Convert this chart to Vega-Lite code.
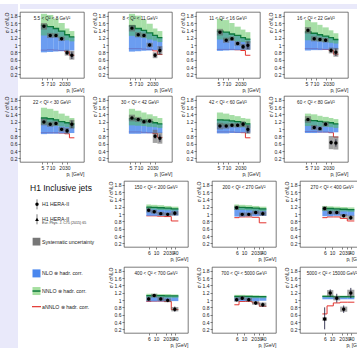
{
"$schema": "https://vega.github.io/schema/vega-lite/v6.json",
"background": "white",
"padding": 0,
"config": {
  "font": "Liberation Sans",
  "view": {"stroke": "#444", "strokeWidth": 0.7},
  "header": {"title": null, "labelFontSize": 4.6, "labelFont": "Liberation Sans", "labelColor": "#222", "labelPadding": -9, "labelOrient": "top", "labelAnchor": "middle"},
  "headerFacet": {"title": null, "labelFontSize": 4.6, "labelFont": "Liberation Sans", "labelColor": "#222", "labelPadding": -9, "labelOrient": "top", "labelAnchor": "middle"},
  "axis": {"grid": false, "domain": false, "labelFont": "Liberation Sans", "titleFont": "Liberation Sans", "labelFontSize": 5, "titleFontSize": 5, "titleFontWeight": "normal", "tickSize": 2, "tickWidth": 0.6, "tickColor": "#333", "labelColor": "#222", "titleColor": "#222", "labelPadding": 1, "labelOverlap": false, "labelFlush": false, "labelBound": false, "labelSeparation": 0}
},
"datasets": {
  "blank": [{"k": 1}],
  "legend": [
    {"label": "H1 Inclusive jets", "sym": "title", "pos": 0.87},
    {"label": "H1 HERA-II", "sym": "circle", "pos": 2.78},
    {"label": "H1 HERA-II", "sym": "triangle", "pos": 4.56},
    {"label": "Eur. Phys. J. C75 (2015) 65", "sym": "sub", "pos": 5.05},
    {"label": "Systematic uncertainty", "sym": "sys", "pos": 7.22},
    {"label": "NLO ⊗ hadr. corr.", "sym": "nlo", "pos": 11.0},
    {"label": "NNLO ⊗ hadr. corr.", "sym": "nnlo", "pos": 13.1},
    {"label": "aNNLO ⊗ hadr. corr.", "sym": "annlo", "pos": 14.96}
  ],
  "low": [
    {"panel": "5.5 < Q² < 8 GeV²", "lo": 4.5, "hi": 7, "pt": 5.6, "nlo_lo": 0.80, "nlo_hi": 1.54, "nnlo_lo": 1.26, "nnlo": 1.54, "nnlo_hi": 1.85, "annlo": 0.86, "h1": 1.51, "stat_lo": 1.49, "stat_hi": 1.53, "sys_lo": 1.42, "sys_hi": 1.60},
    {"panel": "5.5 < Q² < 8 GeV²", "lo": 7, "hi": 11, "pt": 8.8, "nlo_lo": 0.81, "nlo_hi": 1.50, "nnlo_lo": 1.25, "nnlo": 1.50, "nnlo_hi": 1.82, "annlo": 0.87, "h1": 1.26, "stat_lo": 1.24, "stat_hi": 1.28, "sys_lo": 1.19, "sys_hi": 1.33},
    {"panel": "5.5 < Q² < 8 GeV²", "lo": 11, "hi": 16, "pt": 13.3, "nlo_lo": 0.82, "nlo_hi": 1.45, "nnlo_lo": 1.22, "nnlo": 1.45, "nnlo_hi": 1.72, "annlo": 0.86, "h1": 1.26, "stat_lo": 1.23, "stat_hi": 1.29, "sys_lo": 1.20, "sys_hi": 1.32},
    {"panel": "5.5 < Q² < 8 GeV²", "lo": 16, "hi": 25, "pt": 20, "nlo_lo": 0.83, "nlo_hi": 1.38, "nnlo_lo": 1.18, "nnlo": 1.38, "nnlo_hi": 1.60, "annlo": 0.85, "h1": 1.17, "stat_lo": 1.13, "stat_hi": 1.21, "sys_lo": 1.11, "sys_hi": 1.23},
    {"panel": "5.5 < Q² < 8 GeV²", "lo": 25, "hi": 35, "pt": 29.6, "nlo_lo": 0.84, "nlo_hi": 1.28, "nnlo_lo": 1.13, "nnlo": 1.28, "nnlo_hi": 1.45, "annlo": 0.82, "h1": 0.79, "stat_lo": 0.73, "stat_hi": 0.85, "sys_lo": 0.71, "sys_hi": 0.87},
    {"panel": "5.5 < Q² < 8 GeV²", "lo": 35, "hi": 50, "pt": 41.8, "nlo_lo": 0.85, "nlo_hi": 1.22, "nnlo_lo": 1.10, "nnlo": 1.22, "nnlo_hi": 1.38, "annlo": 0.72, "h1": 0.72, "stat_lo": 0.62, "stat_hi": 0.82, "sys_lo": 0.60, "sys_hi": 0.84},

    {"panel": "8 < Q² < 11 GeV²", "lo": 4.5, "hi": 7, "pt": 5.6, "nlo_lo": 0.82, "nlo_hi": 1.52, "nnlo_lo": 1.25, "nnlo": 1.52, "nnlo_hi": 1.85, "annlo": 0.90, "h1": 1.46, "stat_lo": 1.44, "stat_hi": 1.48, "sys_lo": 1.37, "sys_hi": 1.55},
    {"panel": "8 < Q² < 11 GeV²", "lo": 7, "hi": 11, "pt": 8.8, "nlo_lo": 0.83, "nlo_hi": 1.45, "nnlo_lo": 1.22, "nnlo": 1.45, "nnlo_hi": 1.80, "annlo": 0.90, "h1": 1.28, "stat_lo": 1.26, "stat_hi": 1.30, "sys_lo": 1.21, "sys_hi": 1.35},
    {"panel": "8 < Q² < 11 GeV²", "lo": 11, "hi": 16, "pt": 13.3, "nlo_lo": 0.84, "nlo_hi": 1.40, "nnlo_lo": 1.20, "nnlo": 1.40, "nnlo_hi": 1.70, "annlo": 0.89, "h1": 1.26, "stat_lo": 1.23, "stat_hi": 1.29, "sys_lo": 1.20, "sys_hi": 1.32},
    {"panel": "8 < Q² < 11 GeV²", "lo": 16, "hi": 25, "pt": 20, "nlo_lo": 0.85, "nlo_hi": 1.33, "nnlo_lo": 1.15, "nnlo": 1.33, "nnlo_hi": 1.58, "annlo": 0.88, "h1": 1.00, "stat_lo": 0.96, "stat_hi": 1.04, "sys_lo": 0.94, "sys_hi": 1.06},
    {"panel": "8 < Q² < 11 GeV²", "lo": 25, "hi": 35, "pt": 29.6, "nlo_lo": 0.86, "nlo_hi": 1.26, "nnlo_lo": 1.12, "nnlo": 1.26, "nnlo_hi": 1.45, "annlo": 0.84, "h1": 0.72, "stat_lo": 0.66, "stat_hi": 0.78, "sys_lo": 0.64, "sys_hi": 0.80},
    {"panel": "8 < Q² < 11 GeV²", "lo": 35, "hi": 50, "pt": 41.8, "nlo_lo": 0.86, "nlo_hi": 1.20, "nnlo_lo": 1.08, "nnlo": 1.20, "nnlo_hi": 1.38, "annlo": 0.74, "h1": 0.85, "stat_lo": 0.75, "stat_hi": 0.95, "sys_lo": 0.73, "sys_hi": 0.97},

    {"panel": "11 < Q² < 16 GeV²", "lo": 4.5, "hi": 7, "pt": 5.6, "nlo_lo": 0.84, "nlo_hi": 1.38, "nnlo_lo": 1.15, "nnlo": 1.38, "nnlo_hi": 1.72, "annlo": 0.88, "h1": 1.35, "stat_lo": 1.33, "stat_hi": 1.37, "sys_lo": 1.26, "sys_hi": 1.44},
    {"panel": "11 < Q² < 16 GeV²", "lo": 7, "hi": 11, "pt": 8.8, "nlo_lo": 0.85, "nlo_hi": 1.35, "nnlo_lo": 1.13, "nnlo": 1.35, "nnlo_hi": 1.68, "annlo": 0.88, "h1": 1.13, "stat_lo": 1.11, "stat_hi": 1.15, "sys_lo": 1.06, "sys_hi": 1.20},
    {"panel": "11 < Q² < 16 GeV²", "lo": 11, "hi": 16, "pt": 13.3, "nlo_lo": 0.86, "nlo_hi": 1.30, "nnlo_lo": 1.12, "nnlo": 1.30, "nnlo_hi": 1.60, "annlo": 0.88, "h1": 1.17, "stat_lo": 1.14, "stat_hi": 1.20, "sys_lo": 1.11, "sys_hi": 1.23},
    {"panel": "11 < Q² < 16 GeV²", "lo": 16, "hi": 25, "pt": 20, "nlo_lo": 0.86, "nlo_hi": 1.26, "nnlo_lo": 1.10, "nnlo": 1.26, "nnlo_hi": 1.50, "annlo": 0.87, "h1": 1.04, "stat_lo": 1.00, "stat_hi": 1.08, "sys_lo": 0.98, "sys_hi": 1.10},
    {"panel": "11 < Q² < 16 GeV²", "lo": 25, "hi": 35, "pt": 29.6, "nlo_lo": 0.87, "nlo_hi": 1.20, "nnlo_lo": 1.08, "nnlo": 1.20, "nnlo_hi": 1.42, "annlo": 0.85, "h1": 0.95, "stat_lo": 0.89, "stat_hi": 1.01, "sys_lo": 0.87, "sys_hi": 1.03},
    {"panel": "11 < Q² < 16 GeV²", "lo": 35, "hi": 50, "pt": 41.8, "nlo_lo": 0.87, "nlo_hi": 1.16, "nnlo_lo": 1.05, "nnlo": 1.16, "nnlo_hi": 1.35, "annlo": 0.72, "h1": 0.99, "stat_lo": 0.89, "stat_hi": 1.09, "sys_lo": 0.87, "sys_hi": 1.11},

    {"panel": "16 < Q² < 22 GeV²", "lo": 4.5, "hi": 7, "pt": 5.6, "nlo_lo": 0.85, "nlo_hi": 1.36, "nnlo_lo": 1.13, "nnlo": 1.36, "nnlo_hi": 1.68, "annlo": 0.90, "h1": 1.40, "stat_lo": 1.38, "stat_hi": 1.42, "sys_lo": 1.31, "sys_hi": 1.49},
    {"panel": "16 < Q² < 22 GeV²", "lo": 7, "hi": 11, "pt": 8.8, "nlo_lo": 0.86, "nlo_hi": 1.32, "nnlo_lo": 1.12, "nnlo": 1.32, "nnlo_hi": 1.62, "annlo": 0.90, "h1": 1.17, "stat_lo": 1.15, "stat_hi": 1.19, "sys_lo": 1.10, "sys_hi": 1.24},
    {"panel": "16 < Q² < 22 GeV²", "lo": 11, "hi": 16, "pt": 13.3, "nlo_lo": 0.86, "nlo_hi": 1.28, "nnlo_lo": 1.10, "nnlo": 1.28, "nnlo_hi": 1.55, "annlo": 0.89, "h1": 1.15, "stat_lo": 1.12, "stat_hi": 1.18, "sys_lo": 1.09, "sys_hi": 1.21},
    {"panel": "16 < Q² < 22 GeV²", "lo": 16, "hi": 25, "pt": 20, "nlo_lo": 0.87, "nlo_hi": 1.24, "nnlo_lo": 1.08, "nnlo": 1.24, "nnlo_hi": 1.48, "annlo": 0.88, "h1": 1.13, "stat_lo": 1.09, "stat_hi": 1.17, "sys_lo": 1.07, "sys_hi": 1.19},
    {"panel": "16 < Q² < 22 GeV²", "lo": 25, "hi": 35, "pt": 29.6, "nlo_lo": 0.87, "nlo_hi": 1.20, "nnlo_lo": 1.06, "nnlo": 1.20, "nnlo_hi": 1.40, "annlo": 0.86, "h1": 0.85, "stat_lo": 0.79, "stat_hi": 0.91, "sys_lo": 0.77, "sys_hi": 0.93},
    {"panel": "16 < Q² < 22 GeV²", "lo": 35, "hi": 50, "pt": 41.8, "nlo_lo": 0.88, "nlo_hi": 1.15, "nnlo_lo": 1.04, "nnlo": 1.15, "nnlo_hi": 1.32, "annlo": 0.75, "h1": 0.80, "stat_lo": 0.70, "stat_hi": 0.90, "sys_lo": 0.68, "sys_hi": 0.92},

    {"panel": "22 < Q² < 30 GeV²", "lo": 4.5, "hi": 7, "pt": 5.6, "nlo_lo": 0.86, "nlo_hi": 1.30, "nnlo_lo": 1.12, "nnlo": 1.30, "nnlo_hi": 1.58, "annlo": 0.90, "h1": 1.19, "stat_lo": 1.17, "stat_hi": 1.21, "sys_lo": 1.10, "sys_hi": 1.28},
    {"panel": "22 < Q² < 30 GeV²", "lo": 7, "hi": 11, "pt": 8.8, "nlo_lo": 0.87, "nlo_hi": 1.28, "nnlo_lo": 1.10, "nnlo": 1.28, "nnlo_hi": 1.55, "annlo": 0.90, "h1": 1.13, "stat_lo": 1.11, "stat_hi": 1.15, "sys_lo": 1.06, "sys_hi": 1.20},
    {"panel": "22 < Q² < 30 GeV²", "lo": 11, "hi": 16, "pt": 13.3, "nlo_lo": 0.87, "nlo_hi": 1.25, "nnlo_lo": 1.09, "nnlo": 1.25, "nnlo_hi": 1.50, "annlo": 0.90, "h1": 1.15, "stat_lo": 1.12, "stat_hi": 1.18, "sys_lo": 1.09, "sys_hi": 1.21},
    {"panel": "22 < Q² < 30 GeV²", "lo": 16, "hi": 25, "pt": 20, "nlo_lo": 0.88, "nlo_hi": 1.20, "nnlo_lo": 1.07, "nnlo": 1.20, "nnlo_hi": 1.42, "annlo": 0.89, "h1": 0.99, "stat_lo": 0.95, "stat_hi": 1.03, "sys_lo": 0.93, "sys_hi": 1.05},
    {"panel": "22 < Q² < 30 GeV²", "lo": 25, "hi": 35, "pt": 29.6, "nlo_lo": 0.88, "nlo_hi": 1.17, "nnlo_lo": 1.05, "nnlo": 1.17, "nnlo_hi": 1.36, "annlo": 0.87, "h1": 0.95, "stat_lo": 0.89, "stat_hi": 1.01, "sys_lo": 0.87, "sys_hi": 1.03},
    {"panel": "22 < Q² < 30 GeV²", "lo": 35, "hi": 50, "pt": 41.8, "nlo_lo": 0.89, "nlo_hi": 1.14, "nnlo_lo": 1.03, "nnlo": 1.14, "nnlo_hi": 1.30, "annlo": 0.76, "h1": 1.13, "stat_lo": 1.03, "stat_hi": 1.23, "sys_lo": 1.01, "sys_hi": 1.25},

    {"panel": "30 < Q² < 42 GeV²", "lo": 4.5, "hi": 7, "pt": 5.6, "nlo_lo": 0.87, "nlo_hi": 1.28, "nnlo_lo": 1.10, "nnlo": 1.28, "nnlo_hi": 1.55, "annlo": 0.92, "h1": 1.30, "stat_lo": 1.28, "stat_hi": 1.32, "sys_lo": 1.21, "sys_hi": 1.39},
    {"panel": "30 < Q² < 42 GeV²", "lo": 7, "hi": 11, "pt": 8.8, "nlo_lo": 0.87, "nlo_hi": 1.26, "nnlo_lo": 1.09, "nnlo": 1.26, "nnlo_hi": 1.50, "annlo": 0.92, "h1": 1.26, "stat_lo": 1.24, "stat_hi": 1.28, "sys_lo": 1.19, "sys_hi": 1.33},
    {"panel": "30 < Q² < 42 GeV²", "lo": 11, "hi": 16, "pt": 13.3, "nlo_lo": 0.88, "nlo_hi": 1.24, "nnlo_lo": 1.08, "nnlo": 1.24, "nnlo_hi": 1.45, "annlo": 0.91, "h1": 1.20, "stat_lo": 1.17, "stat_hi": 1.23, "sys_lo": 1.14, "sys_hi": 1.26},
    {"panel": "30 < Q² < 42 GeV²", "lo": 16, "hi": 25, "pt": 20, "nlo_lo": 0.88, "nlo_hi": 1.20, "nnlo_lo": 1.06, "nnlo": 1.20, "nnlo_hi": 1.40, "annlo": 0.90, "h1": 1.22, "stat_lo": 1.18, "stat_hi": 1.26, "sys_lo": 1.16, "sys_hi": 1.28},
    {"panel": "30 < Q² < 42 GeV²", "lo": 25, "hi": 35, "pt": 29.6, "nlo_lo": 0.89, "nlo_hi": 1.17, "nnlo_lo": 1.05, "nnlo": 1.17, "nnlo_hi": 1.35, "annlo": 0.88, "h1": 0.80, "stat_lo": 0.74, "stat_hi": 0.86, "sys_lo": 0.62, "sys_hi": 0.98},
    {"panel": "30 < Q² < 42 GeV²", "lo": 35, "hi": 50, "pt": 41.8, "nlo_lo": 0.89, "nlo_hi": 1.14, "nnlo_lo": 1.03, "nnlo": 1.14, "nnlo_hi": 1.30, "annlo": 0.77, "h1": 0.75, "stat_lo": 0.65, "stat_hi": 0.85, "sys_lo": 0.60, "sys_hi": 0.90},

    {"panel": "42 < Q² < 60 GeV²", "lo": 4.5, "hi": 7, "pt": 5.6, "nlo_lo": 0.88, "nlo_hi": 1.25, "nnlo_lo": 1.09, "nnlo": 1.25, "nnlo_hi": 1.45, "annlo": 0.92, "h1": 1.08, "stat_lo": 1.06, "stat_hi": 1.10, "sys_lo": 0.99, "sys_hi": 1.17},
    {"panel": "42 < Q² < 60 GeV²", "lo": 7, "hi": 11, "pt": 8.8, "nlo_lo": 0.88, "nlo_hi": 1.24, "nnlo_lo": 1.08, "nnlo": 1.24, "nnlo_hi": 1.42, "annlo": 0.92, "h1": 1.08, "stat_lo": 1.06, "stat_hi": 1.10, "sys_lo": 1.01, "sys_hi": 1.15},
    {"panel": "42 < Q² < 60 GeV²", "lo": 11, "hi": 16, "pt": 13.3, "nlo_lo": 0.89, "nlo_hi": 1.22, "nnlo_lo": 1.07, "nnlo": 1.22, "nnlo_hi": 1.38, "annlo": 0.92, "h1": 1.10, "stat_lo": 1.07, "stat_hi": 1.13, "sys_lo": 1.04, "sys_hi": 1.16},
    {"panel": "42 < Q² < 60 GeV²", "lo": 16, "hi": 25, "pt": 20, "nlo_lo": 0.89, "nlo_hi": 1.20, "nnlo_lo": 1.06, "nnlo": 1.20, "nnlo_hi": 1.35, "annlo": 0.91, "h1": 1.10, "stat_lo": 1.06, "stat_hi": 1.14, "sys_lo": 1.04, "sys_hi": 1.16},
    {"panel": "42 < Q² < 60 GeV²", "lo": 25, "hi": 35, "pt": 29.6, "nlo_lo": 0.90, "nlo_hi": 1.17, "nnlo_lo": 1.05, "nnlo": 1.17, "nnlo_hi": 1.30, "annlo": 0.90, "h1": 1.13, "stat_lo": 1.07, "stat_hi": 1.19, "sys_lo": 1.05, "sys_hi": 1.21},
    {"panel": "42 < Q² < 60 GeV²", "lo": 35, "hi": 50, "pt": 41.8, "nlo_lo": 0.90, "nlo_hi": 1.14, "nnlo_lo": 1.03, "nnlo": 1.14, "nnlo_hi": 1.28, "annlo": 0.76, "h1": 0.99, "stat_lo": 0.89, "stat_hi": 1.09, "sys_lo": 0.87, "sys_hi": 1.11},

    {"panel": "60 < Q² < 80 GeV²", "lo": 4.5, "hi": 7, "pt": 5.6, "nlo_lo": 0.89, "nlo_hi": 1.24, "nnlo_lo": 1.08, "nnlo": 1.24, "nnlo_hi": 1.42, "annlo": 0.93, "h1": 1.26, "stat_lo": 1.24, "stat_hi": 1.28, "sys_lo": 1.17, "sys_hi": 1.35},
    {"panel": "60 < Q² < 80 GeV²", "lo": 7, "hi": 11, "pt": 8.8, "nlo_lo": 0.89, "nlo_hi": 1.23, "nnlo_lo": 1.08, "nnlo": 1.23, "nnlo_hi": 1.40, "annlo": 0.93, "h1": 1.04, "stat_lo": 1.02, "stat_hi": 1.06, "sys_lo": 0.97, "sys_hi": 1.11},
    {"panel": "60 < Q² < 80 GeV²", "lo": 11, "hi": 16, "pt": 13.3, "nlo_lo": 0.90, "nlo_hi": 1.21, "nnlo_lo": 1.07, "nnlo": 1.21, "nnlo_hi": 1.36, "annlo": 0.92, "h1": 1.01, "stat_lo": 0.98, "stat_hi": 1.04, "sys_lo": 0.95, "sys_hi": 1.07},
    {"panel": "60 < Q² < 80 GeV²", "lo": 16, "hi": 25, "pt": 20, "nlo_lo": 0.90, "nlo_hi": 1.19, "nnlo_lo": 1.06, "nnlo": 1.19, "nnlo_hi": 1.33, "annlo": 0.92, "h1": 1.13, "stat_lo": 1.09, "stat_hi": 1.17, "sys_lo": 1.07, "sys_hi": 1.19},
    {"panel": "60 < Q² < 80 GeV²", "lo": 25, "hi": 35, "pt": 29.6, "nlo_lo": 0.90, "nlo_hi": 1.17, "nnlo_lo": 1.05, "nnlo": 1.17, "nnlo_hi": 1.30, "annlo": 0.90, "h1": 0.63, "stat_lo": 0.57, "stat_hi": 0.69, "sys_lo": 0.45, "sys_hi": 0.81},
    {"panel": "60 < Q² < 80 GeV²", "lo": 35, "hi": 50, "pt": 41.8, "nlo_lo": 0.91, "nlo_hi": 1.14, "nnlo_lo": 1.03, "nnlo": 1.14, "nnlo_hi": 1.27, "annlo": 0.78, "h1": 0.62, "stat_lo": 0.52, "stat_hi": 0.72, "sys_lo": 0.44, "sys_hi": 0.80}
  ],
  "high": [
    {"panel": "150 < Q² < 200 GeV²", "lo": 5, "hi": 7, "pt": 5.9, "nlo_lo": 0.95, "nlo_hi": 1.19, "nnlo_lo": 1.12, "nnlo": 1.19, "nnlo_hi": 1.26, "annlo": 0.95, "h1": 1.10, "stat_lo": 1.07, "stat_hi": 1.13, "sys_lo": 1.04, "sys_hi": 1.16},
    {"panel": "150 < Q² < 200 GeV²", "lo": 7, "hi": 11, "pt": 8.8, "nlo_lo": 0.95, "nlo_hi": 1.18, "nnlo_lo": 1.12, "nnlo": 1.18, "nnlo_hi": 1.25, "annlo": 0.95, "h1": 1.06, "stat_lo": 1.03, "stat_hi": 1.09, "sys_lo": 1.01, "sys_hi": 1.11},
    {"panel": "150 < Q² < 200 GeV²", "lo": 11, "hi": 18, "pt": 14.1, "nlo_lo": 0.95, "nlo_hi": 1.17, "nnlo_lo": 1.11, "nnlo": 1.17, "nnlo_hi": 1.24, "annlo": 0.94, "h1": 1.01, "stat_lo": 0.98, "stat_hi": 1.04, "sys_lo": 0.96, "sys_hi": 1.06},
    {"panel": "150 < Q² < 200 GeV²", "lo": 18, "hi": 30, "pt": 23.2, "nlo_lo": 0.96, "nlo_hi": 1.16, "nnlo_lo": 1.10, "nnlo": 1.16, "nnlo_hi": 1.22, "annlo": 0.93, "h1": 0.99, "stat_lo": 0.95, "stat_hi": 1.03, "sys_lo": 0.94, "sys_hi": 1.04},
    {"panel": "150 < Q² < 200 GeV²", "lo": 30, "hi": 50, "pt": 38.7, "nlo_lo": 0.96, "nlo_hi": 1.14, "nnlo_lo": 1.09, "nnlo": 1.14, "nnlo_hi": 1.20, "annlo": 0.81, "h1": 1.02, "stat_lo": 0.96, "stat_hi": 1.08, "sys_lo": 0.96, "sys_hi": 1.08},

    {"panel": "200 < Q² < 270 GeV²", "lo": 5, "hi": 7, "pt": 5.9, "nlo_lo": 0.93, "nlo_hi": 1.19, "nnlo_lo": 1.11, "nnlo": 1.19, "nnlo_hi": 1.26, "annlo": 0.90, "h1": 1.17, "stat_lo": 1.14, "stat_hi": 1.20, "sys_lo": 1.11, "sys_hi": 1.23},
    {"panel": "200 < Q² < 270 GeV²", "lo": 7, "hi": 11, "pt": 8.8, "nlo_lo": 0.93, "nlo_hi": 1.18, "nnlo_lo": 1.11, "nnlo": 1.18, "nnlo_hi": 1.25, "annlo": 0.92, "h1": 0.99, "stat_lo": 0.96, "stat_hi": 1.02, "sys_lo": 0.94, "sys_hi": 1.04},
    {"panel": "200 < Q² < 270 GeV²", "lo": 11, "hi": 18, "pt": 14.1, "nlo_lo": 0.94, "nlo_hi": 1.17, "nnlo_lo": 1.10, "nnlo": 1.17, "nnlo_hi": 1.24, "annlo": 0.92, "h1": 0.99, "stat_lo": 0.96, "stat_hi": 1.02, "sys_lo": 0.94, "sys_hi": 1.04},
    {"panel": "200 < Q² < 270 GeV²", "lo": 18, "hi": 30, "pt": 23.2, "nlo_lo": 0.94, "nlo_hi": 1.16, "nnlo_lo": 1.09, "nnlo": 1.16, "nnlo_hi": 1.22, "annlo": 0.91, "h1": 1.04, "stat_lo": 1.00, "stat_hi": 1.08, "sys_lo": 0.99, "sys_hi": 1.09},
    {"panel": "200 < Q² < 270 GeV²", "lo": 30, "hi": 50, "pt": 38.7, "nlo_lo": 0.95, "nlo_hi": 1.14, "nnlo_lo": 1.08, "nnlo": 1.14, "nnlo_hi": 1.20, "annlo": 0.76, "h1": 1.01, "stat_lo": 0.95, "stat_hi": 1.07, "sys_lo": 0.95, "sys_hi": 1.07},

    {"panel": "270 < Q² < 400 GeV²", "lo": 5, "hi": 7, "pt": 5.9, "nlo_lo": 0.94, "nlo_hi": 1.15, "nnlo_lo": 1.08, "nnlo": 1.15, "nnlo_hi": 1.22, "annlo": 0.90, "h1": 1.15, "stat_lo": 1.12, "stat_hi": 1.18, "sys_lo": 1.09, "sys_hi": 1.21},
    {"panel": "270 < Q² < 400 GeV²", "lo": 7, "hi": 11, "pt": 8.8, "nlo_lo": 0.94, "nlo_hi": 1.15, "nnlo_lo": 1.08, "nnlo": 1.15, "nnlo_hi": 1.21, "annlo": 0.92, "h1": 1.04, "stat_lo": 1.01, "stat_hi": 1.07, "sys_lo": 0.99, "sys_hi": 1.09},
    {"panel": "270 < Q² < 400 GeV²", "lo": 11, "hi": 18, "pt": 14.1, "nlo_lo": 0.95, "nlo_hi": 1.14, "nnlo_lo": 1.07, "nnlo": 1.14, "nnlo_hi": 1.20, "annlo": 0.92, "h1": 1.04, "stat_lo": 1.01, "stat_hi": 1.07, "sys_lo": 0.99, "sys_hi": 1.09},
    {"panel": "270 < Q² < 400 GeV²", "lo": 18, "hi": 30, "pt": 23.2, "nlo_lo": 0.95, "nlo_hi": 1.13, "nnlo_lo": 1.07, "nnlo": 1.13, "nnlo_hi": 1.19, "annlo": 0.88, "h1": 0.95, "stat_lo": 0.91, "stat_hi": 0.99, "sys_lo": 0.90, "sys_hi": 1.00},
    {"panel": "270 < Q² < 400 GeV²", "lo": 30, "hi": 50, "pt": 38.7, "nlo_lo": 0.95, "nlo_hi": 1.12, "nnlo_lo": 1.06, "nnlo": 1.12, "nnlo_hi": 1.18, "annlo": 0.81, "h1": 0.90, "stat_lo": 0.84, "stat_hi": 0.96, "sys_lo": 0.84, "sys_hi": 0.96},

    {"panel": "400 < Q² < 700 GeV²", "lo": 5, "hi": 7, "pt": 5.9, "nlo_lo": 0.96, "nlo_hi": 1.12, "nnlo_lo": 1.07, "nnlo": 1.12, "nnlo_hi": 1.17, "annlo": 0.96, "h1": 1.03, "stat_lo": 0.99, "stat_hi": 1.07, "sys_lo": 0.97, "sys_hi": 1.09},
    {"panel": "400 < Q² < 700 GeV²", "lo": 7, "hi": 11, "pt": 8.8, "nlo_lo": 0.96, "nlo_hi": 1.12, "nnlo_lo": 1.07, "nnlo": 1.12, "nnlo_hi": 1.17, "annlo": 0.97, "h1": 1.12, "stat_lo": 1.08, "stat_hi": 1.16, "sys_lo": 1.07, "sys_hi": 1.17},
    {"panel": "400 < Q² < 700 GeV²", "lo": 11, "hi": 18, "pt": 14.1, "nlo_lo": 0.96, "nlo_hi": 1.12, "nnlo_lo": 1.07, "nnlo": 1.12, "nnlo_hi": 1.16, "annlo": 0.97, "h1": 1.03, "stat_lo": 0.99, "stat_hi": 1.07, "sys_lo": 0.98, "sys_hi": 1.08},
    {"panel": "400 < Q² < 700 GeV²", "lo": 18, "hi": 30, "pt": 23.2, "nlo_lo": 0.97, "nlo_hi": 1.11, "nnlo_lo": 1.06, "nnlo": 1.11, "nnlo_hi": 1.16, "annlo": 0.96, "h1": 0.99, "stat_lo": 0.94, "stat_hi": 1.04, "sys_lo": 0.94, "sys_hi": 1.04},
    {"panel": "400 < Q² < 700 GeV²", "lo": 30, "hi": 50, "pt": 38.7, "nlo_lo": 0.97, "nlo_hi": 1.11, "nnlo_lo": 1.06, "nnlo": 1.11, "nnlo_hi": 1.15, "annlo": 0.74, "h1": 0.75, "stat_lo": 0.68, "stat_hi": 0.82, "sys_lo": 0.69, "sys_hi": 0.81},

    {"panel": "700 < Q² < 5000 GeV²", "lo": 5, "hi": 7, "pt": 5.9, "nlo_lo": 0.97, "nlo_hi": 1.10, "nnlo_lo": 1.06, "nnlo": 1.10, "nnlo_hi": 1.14, "annlo": 0.87, "h1": 1.01, "stat_lo": 0.96, "stat_hi": 1.06, "sys_lo": 0.95, "sys_hi": 1.07},
    {"panel": "700 < Q² < 5000 GeV²", "lo": 7, "hi": 11, "pt": 8.8, "nlo_lo": 0.97, "nlo_hi": 1.10, "nnlo_lo": 1.06, "nnlo": 1.10, "nnlo_hi": 1.14, "annlo": 0.96, "h1": 1.05, "stat_lo": 1.00, "stat_hi": 1.10, "sys_lo": 1.00, "sys_hi": 1.10},
    {"panel": "700 < Q² < 5000 GeV²", "lo": 11, "hi": 18, "pt": 14.1, "nlo_lo": 0.97, "nlo_hi": 1.10, "nnlo_lo": 1.06, "nnlo": 1.10, "nnlo_hi": 1.13, "annlo": 0.96, "h1": 1.01, "stat_lo": 0.96, "stat_hi": 1.06, "sys_lo": 0.96, "sys_hi": 1.06},
    {"panel": "700 < Q² < 5000 GeV²", "lo": 18, "hi": 30, "pt": 23.2, "nlo_lo": 0.97, "nlo_hi": 1.09, "nnlo_lo": 1.05, "nnlo": 1.09, "nnlo_hi": 1.13, "annlo": 0.92, "h1": 0.92, "stat_lo": 0.87, "stat_hi": 0.97, "sys_lo": 0.87, "sys_hi": 0.97},
    {"panel": "700 < Q² < 5000 GeV²", "lo": 30, "hi": 50, "pt": 38.7, "nlo_lo": 0.98, "nlo_hi": 1.09, "nnlo_lo": 1.05, "nnlo": 1.09, "nnlo_hi": 1.12, "annlo": 0.83, "h1": 0.87, "stat_lo": 0.81, "stat_hi": 0.93, "sys_lo": 0.81, "sys_hi": 0.93},

    {"panel": "5000 < Q² < 15000 GeV²", "lo": 5, "hi": 7, "pt": 5.9, "nlo_lo": 1.02, "nlo_hi": 1.10, "nnlo_lo": 1.07, "nnlo": 1.10, "nnlo_hi": 1.13, "annlo": 0.62, "h1": 0.48, "stat_lo": 0.20, "stat_hi": 0.80, "sys_lo": 0.43, "sys_hi": 0.53},
    {"panel": "5000 < Q² < 15000 GeV²", "lo": 7, "hi": 11, "pt": 8.8, "nlo_lo": 1.02, "nlo_hi": 1.10, "nnlo_lo": 1.07, "nnlo": 1.10, "nnlo_hi": 1.13, "annlo": 0.84, "h1": 1.19, "stat_lo": 1.09, "stat_hi": 1.29, "sys_lo": 1.11, "sys_hi": 1.27},
    {"panel": "5000 < Q² < 15000 GeV²", "lo": 11, "hi": 18, "pt": 14.1, "nlo_lo": 1.02, "nlo_hi": 1.09, "nnlo_lo": 1.06, "nnlo": 1.09, "nnlo_hi": 1.12, "annlo": 0.92, "h1": 1.05, "stat_lo": 0.93, "stat_hi": 1.17, "sys_lo": 0.99, "sys_hi": 1.11},
    {"panel": "5000 < Q² < 15000 GeV²", "lo": 18, "hi": 30, "pt": 23.2, "nlo_lo": 1.02, "nlo_hi": 1.09, "nnlo_lo": 1.06, "nnlo": 1.09, "nnlo_hi": 1.12, "annlo": 0.94, "h1": 0.75, "stat_lo": 0.65, "stat_hi": 0.85, "sys_lo": 0.68, "sys_hi": 0.82},
    {"panel": "5000 < Q² < 15000 GeV²", "lo": 30, "hi": 50, "pt": 38.7, "nlo_lo": 1.02, "nlo_hi": 1.09, "nnlo_lo": 1.06, "nnlo": 1.09, "nnlo_hi": 1.12, "annlo": 0.94, "h1": 1.19, "stat_lo": 1.05, "stat_hi": 1.33, "sys_lo": 1.10, "sys_hi": 1.28}
  ]
},
"hconcat": [
  {"data": {"name": "blank"}, "width": 18, "height": 348, "view": {"fill": "#e9e9fa", "stroke": null}, "mark": {"type": "text"}, "encoding": {"text": {"value": " "}}},
  {"vconcat": [
    {"data": {"name": "blank"}, "width": 357, "height": 5, "view": {"fill": "#e9e9fa", "stroke": null}, "mark": {"type": "text"}, "encoding": {"text": {"value": " "}}},
    {"vconcat": [
        {"data": {"name": "low"},
         "facet": {"field": "panel", "type": "nominal", "title": null,
           "sort": ["5.5 < Q² < 8 GeV²", "8 < Q² < 11 GeV²", "11 < Q² < 16 GeV²", "16 < Q² < 22 GeV²", "22 < Q² < 30 GeV²", "30 < Q² < 42 GeV²", "42 < Q² < 60 GeV²", "60 < Q² < 80 GeV²"]},
         "columns": 4,
         "spacing": {"row": 2, "column": 6},
         "resolve": {"axis": {"x": "independent", "y": "independent"}},
         "spec": {
           "width": 64, "height": 66,
           "layer": [
             {"transform": [{"fold": ["lo", "hi"], "as": ["edge", "xv"]}],
              "mark": {"type": "line", "color": "#e3342f", "strokeWidth": 1},
              "encoding": {
                "x": {"field": "xv", "type": "quantitative", "scale": {"type": "log", "domain": [4.5, 50]}, "axis": {"values": [5, 7, 10, 20, 30], "format": "d", "title": "pₜ [GeV]", "titleAnchor": "end", "titlePadding": 1, "labelOverlap": false}},
                "y": {"field": "annlo", "type": "quantitative", "scale": {"domain": [0.1, 1.9], "nice": false}, "axis": {"tickCount": 9, "labelExpr": "datum.value == 1 ? '1' : datum.label", "title": "σ / σNLO", "titleAnchor": "end", "titlePadding": 1, "labelOverlap": false, "labelBound": false}},
                "order": [{"field": "xv", "type": "quantitative"}, {"field": "edge", "type": "nominal"}]}},
             {"mark": {"type": "rect", "color": "#4a87ee", "opacity": 0.82},
              "encoding": {"x": {"field": "lo", "type": "quantitative"}, "x2": {"field": "hi"}, "y": {"field": "nlo_lo", "type": "quantitative"}, "y2": {"field": "nlo_hi"}}},
             {"mark": {"type": "rect", "color": "#4fbf4f", "opacity": 0.5},
              "encoding": {"x": {"field": "lo", "type": "quantitative"}, "x2": {"field": "hi"}, "y": {"field": "nnlo_lo", "type": "quantitative"}, "y2": {"field": "nnlo_hi"}}},
             {"transform": [{"fold": ["lo", "hi"], "as": ["edge", "xv"]}],
              "mark": {"type": "line", "color": "#0e7a3c", "strokeWidth": 1.3},
              "encoding": {"x": {"field": "xv", "type": "quantitative"}, "y": {"field": "nnlo", "type": "quantitative"}, "order": [{"field": "xv", "type": "quantitative"}, {"field": "edge", "type": "nominal"}]}},
             {"mark": {"type": "rect", "color": "#666666", "opacity": 0.6},
              "encoding": {"x": {"field": "lo", "type": "quantitative"}, "x2": {"field": "hi"}, "y": {"field": "sys_lo", "type": "quantitative"}, "y2": {"field": "sys_hi"}}},
             {"mark": {"type": "rule", "color": "#111133", "strokeWidth": 0.8},
              "encoding": {"x": {"field": "pt", "type": "quantitative"}, "y": {"field": "stat_lo", "type": "quantitative"}, "y2": {"field": "stat_hi"}}},
             {"mark": {"type": "point", "filled": true, "color": "black", "size": 12, "opacity": 1},
              "encoding": {"x": {"field": "pt", "type": "quantitative"}, "y": {"field": "h1", "type": "quantitative"}}}
           ]
         }
        },
        {"hconcat": [
          {"data": {"name": "legend"}, "width": 80, "height": 168, "view": {"stroke": null},
           "encoding": {"y": {"field": "pos", "type": "quantitative", "scale": {"domain": [0, 20], "reverse": true}, "axis": null}},
           "layer": [
             {"transform": [{"filter": "datum.sym == 'title'"}], "mark": {"type": "text", "fontSize": 8.5, "color": "#111", "align": "left", "baseline": "middle"},
              "encoding": {"x": {"datum": 10, "type": "quantitative", "scale": {"domain": [0, 80]}, "axis": null}, "text": {"field": "label"}}},
             {"transform": [{"filter": "datum.sym != 'title' && datum.sym != 'sub'"}], "mark": {"type": "text", "fontSize": 5.2, "color": "#222", "align": "left", "baseline": "middle"},
              "encoding": {"x": {"datum": 22, "type": "quantitative", "scale": {"domain": [0, 80]}, "axis": null}, "text": {"field": "label"}}},
             {"transform": [{"filter": "datum.sym == 'sub'"}], "mark": {"type": "text", "fontSize": 3.6, "color": "#333", "align": "left", "baseline": "middle"},
              "encoding": {"x": {"datum": 22, "type": "quantitative", "scale": {"domain": [0, 80]}, "axis": null}, "text": {"field": "label"}}},
             {"transform": [{"filter": "datum.sym == 'circle' || datum.sym == 'triangle'"}], "mark": {"type": "point", "shape": "M0,-1L0,1", "size": 100, "stroke": "#111", "strokeWidth": 0.8, "filled": false},
              "encoding": {"x": {"datum": 17, "type": "quantitative", "scale": {"domain": [0, 80]}, "axis": null}}},
             {"transform": [{"filter": "datum.sym == 'circle'"}], "mark": {"type": "point", "shape": "circle", "size": 12, "filled": true, "color": "black", "opacity": 1},
              "encoding": {"x": {"datum": 17, "type": "quantitative", "scale": {"domain": [0, 80]}, "axis": null}}},
             {"transform": [{"filter": "datum.sym == 'triangle'"}], "mark": {"type": "point", "shape": "triangle-up", "size": 14, "filled": true, "color": "black", "opacity": 1},
              "encoding": {"x": {"datum": 17, "type": "quantitative", "scale": {"domain": [0, 80]}, "axis": null}}},
             {"transform": [{"filter": "datum.sym == 'sys'"}], "mark": {"type": "point", "shape": "square", "size": 60, "filled": true, "color": "#777777", "opacity": 1},
              "encoding": {"x": {"datum": 16.5, "type": "quantitative", "scale": {"domain": [0, 80]}, "axis": null}}},
             {"transform": [{"filter": "datum.sym == 'nlo'"}], "mark": {"type": "point", "shape": "square", "size": 64, "filled": true, "color": "#4a87ee", "opacity": 1},
              "encoding": {"x": {"datum": 16.5, "type": "quantitative", "scale": {"domain": [0, 80]}, "axis": null}}},
             {"transform": [{"filter": "datum.sym == 'nnlo'"}], "mark": {"type": "point", "shape": "square", "size": 64, "filled": true, "color": "#a6dfa0", "opacity": 1},
              "encoding": {"x": {"datum": 16.5, "type": "quantitative", "scale": {"domain": [0, 80]}, "axis": null}}},
             {"transform": [{"filter": "datum.sym == 'nnlo'"}], "mark": {"type": "point", "shape": "M-1,0L1,0", "size": 64, "filled": false, "stroke": "#0e7a3c", "strokeWidth": 1.5, "opacity": 1},
              "encoding": {"x": {"datum": 16.5, "type": "quantitative", "scale": {"domain": [0, 80]}, "axis": null}}},
             {"transform": [{"filter": "datum.sym == 'annlo'"}], "mark": {"type": "point", "shape": "M-1,0L1,0", "size": 81, "filled": false, "stroke": "#e3342f", "strokeWidth": 1.2, "opacity": 1},
              "encoding": {"x": {"datum": 16.5, "type": "quantitative", "scale": {"domain": [0, 80]}, "axis": null}}}
           ]
          },
          {"data": {"name": "high"},
           "facet": {"field": "panel", "type": "nominal", "title": null,
             "sort": ["150 < Q² < 200 GeV²", "200 < Q² < 270 GeV²", "270 < Q² < 400 GeV²", "400 < Q² < 700 GeV²", "700 < Q² < 5000 GeV²", "5000 < Q² < 15000 GeV²"]},
           "columns": 3,
           "spacing": {"row": 4, "column": 6},
           "resolve": {"axis": {"x": "independent", "y": "independent"}},
           "spec": {
             "width": 64, "height": 66,
             "layer": [
               {"transform": [{"fold": ["lo", "hi"], "as": ["edge", "xv"]}],
                "mark": {"type": "line", "color": "#e3342f", "strokeWidth": 1},
                "encoding": {
                  "x": {"field": "xv", "type": "quantitative", "scale": {"type": "log", "domain": [5, 50]}, "axis": {"values": [6, 10, 20, 30, 40], "format": "d", "title": "pₜ [GeV]", "titleAnchor": "end", "titlePadding": 1, "labelOverlap": false}},
                  "y": {"field": "annlo", "type": "quantitative", "scale": {"domain": [0.1, 1.9], "nice": false}, "axis": {"tickCount": 9, "labelExpr": "datum.value == 1 ? '1' : datum.label", "title": "σ / σNLO", "titleAnchor": "end", "titlePadding": 1, "labelOverlap": false, "labelBound": false}},
                  "order": [{"field": "xv", "type": "quantitative"}, {"field": "edge", "type": "nominal"}]}},
               {"mark": {"type": "rect", "color": "#4a87ee", "opacity": 0.82},
                "encoding": {"x": {"field": "lo", "type": "quantitative"}, "x2": {"field": "hi"}, "y": {"field": "nlo_lo", "type": "quantitative"}, "y2": {"field": "nlo_hi"}}},
               {"mark": {"type": "rect", "color": "#4fbf4f", "opacity": 0.5},
                "encoding": {"x": {"field": "lo", "type": "quantitative"}, "x2": {"field": "hi"}, "y": {"field": "nnlo_lo", "type": "quantitative"}, "y2": {"field": "nnlo_hi"}}},
               {"transform": [{"fold": ["lo", "hi"], "as": ["edge", "xv"]}],
                "mark": {"type": "line", "color": "#0e7a3c", "strokeWidth": 1.3},
                "encoding": {"x": {"field": "xv", "type": "quantitative"}, "y": {"field": "nnlo", "type": "quantitative"}, "order": [{"field": "xv", "type": "quantitative"}, {"field": "edge", "type": "nominal"}]}},
               {"mark": {"type": "rect", "color": "#666666", "opacity": 0.6},
                "encoding": {"x": {"field": "lo", "type": "quantitative"}, "x2": {"field": "hi"}, "y": {"field": "sys_lo", "type": "quantitative"}, "y2": {"field": "sys_hi"}}},
               {"mark": {"type": "rule", "color": "#111133", "strokeWidth": 0.8},
                "encoding": {"x": {"field": "pt", "type": "quantitative"}, "y": {"field": "stat_lo", "type": "quantitative"}, "y2": {"field": "stat_hi"}}},
               {"mark": {"type": "point", "filled": true, "color": "black", "size": 12, "opacity": 1},
                "encoding": {"x": {"field": "pt", "type": "quantitative"}, "y": {"field": "h1", "type": "quantitative"}}}
             ]
           }
          }
        ], "spacing": 7}
    ], "spacing": 3}
  ], "spacing": -4}
], "spacing": -15
}
